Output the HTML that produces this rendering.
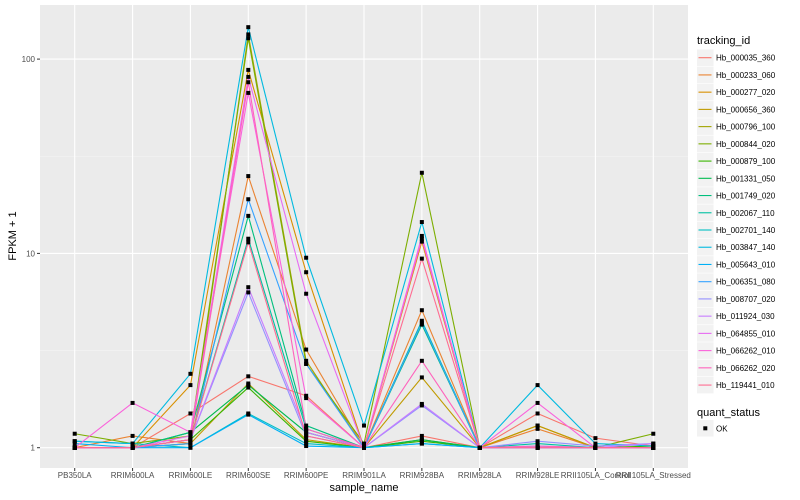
<!DOCTYPE html>
<html><head><meta charset="utf-8"><style>
body{margin:0;background:#fff;}
svg{display:block;font-family:"Liberation Sans",sans-serif;}
</style></head><body>
<svg id="chart" width="800" height="500" viewBox="0 0 800 500">
<rect x="40" y="5" width="648" height="463" fill="#EBEBEB"/>
<g id="grid"></g><g id="lines"></g><g id="points"></g><g id="axes"></g><g id="legend"></g>
<text x="364" y="491" font-size="11" text-anchor="middle" fill="#000">sample_name</text>
<text transform="translate(16,236) rotate(-90)" font-size="11" text-anchor="middle" fill="#000">FPKM + 1</text>
</svg>
<script>
const categories = ["PB350LA","RRIM600LA","RRIM600LE","RRIM600SE","RRIM600PE","RRIM901LA","RRIM928BA","RRIM928LA","RRIM928LE","RRII105LA_Control","RRII105LA_Stressed"];
const seriesNames = ["Hb_000035_360","Hb_000233_060","Hb_000277_020","Hb_000656_360","Hb_000796_100","Hb_000844_020","Hb_000879_100","Hb_001331_050","Hb_001749_020","Hb_002067_110","Hb_002701_140","Hb_003847_140","Hb_005643_010","Hb_006351_080","Hb_008707_020","Hb_011924_030","Hb_064855_010","Hb_066262_010","Hb_066262_020","Hb_119441_010"];
const s0=[1,1,1.5,2.33,1.85,1,1.15,1,1.5,1.12,1.02];
const s1=[1,1.15,1.05,25,3.2,1,5.1,1,1.25,1,1];
const s2=[1,1,2.1,88,8,1,11.5,1,1.3,1,1];
const s3=[1,1,1.05,2.14,1.1,1,2.3,1,1.3,1,1];
const s4=[1,1,1.05,134,2.8,1,1.1,1,1,1,1];
const s5=[1.18,1.05,1.15,128,2.7,1.05,26,1,1,1,1.18];
const s6=[1,1,1.1,2.04,1.08,1,1.08,1,1,1,1.02];
const s7=[1,1,1.2,2.1,1.2,1,1.1,1,1,1,1];
const s8=[1,1,1.2,15.6,1.3,1,4.3,1,1,1,1];
const s9=[1,1,1.1,11.9,1.25,1,4.5,1,1.05,1,1];
const s10=[1.08,1.05,1,1.5,1.05,1,1.05,1,1,1,1];
const s11=[1.08,1.05,2.4,146,9.5,1.3,14.5,1,2.1,1.05,1.02];
const s12=[1.05,1,1,1.48,1.02,1,1.05,1,1,1,1];
const s13=[1,1,1.05,19,2.7,1,4.4,1,1.02,1,1];
const s14=[1,1,1.1,6.3,1.15,1,1.65,1,1.08,1.02,1.05];
const s15=[1,1,1.1,6.7,1.2,1,1.68,1,1,1,1.05];
const s16=[1,1,1.15,81,6.2,1,12.3,1,1,1,1];
const s17=[1,1.7,1.2,67,1.8,1,11.9,1,1.7,1,1];
const s18=[1,1,1.1,76,1.25,1,2.8,1,1.02,1,1];
const s19=[1,1,1.1,11.4,1.15,1,9.4,1,1,1,1];
const seriesValues=[s0,s1,s2,s3,s4,s5,s6,s7,s8,s9,s10,s11,s12,s13,s14,s15,s16,s17,s18,s19];
const yTicks=[1,10,100];
const yTickLabels=["1","10","100"];
const colors=["#F8766D","#EA8331","#D89000","#C09B00","#A3A500","#7CAE00","#39B600","#00BB4E","#00BF7D","#00C1A3","#00BFC4","#00BAE0","#00B0F6","#35A2FF","#9590FF","#C77CFF","#E76BF3","#FA62DB","#FF62BC","#FF6C91"];

const NS="http://www.w3.org/2000/svg";
const PL=40,PR=688,PT=5,PB=468;
const step=(PR-PL)/(categories.length-1+1.2);
function xs(i){return PL+0.6*step+i*step;}
function ys(v){return 447.7-(Math.log10(v))*194.3;}
function mk(tag,attrs,parent){const e=document.createElementNS(NS,tag);for(const k in attrs)e.setAttribute(k,attrs[k]);parent.appendChild(e);return e;}
const grid=document.getElementById('grid'),lines=document.getElementById('lines'),pts=document.getElementById('points'),axes=document.getElementById('axes'),leg=document.getElementById('legend');
// minor grid
for(let d=-0.5;d<=2.5;d+=1){const y=ys(Math.pow(10,d));if(y>PT&&y<PB){const g=mk('line',{x1:PL,x2:PR,y1:y,y2:y,stroke:'#F5F5F5','stroke-width':0.6},grid);

}}
yTicks.forEach((t,i)=>{const y=ys(t);
const g=mk('line',{x1:PL,x2:PR,y1:y,y2:y,stroke:'#fff','stroke-width':1.1},grid);


const tk=mk('line',{x1:PL-3,x2:PL,y1:y,y2:y,stroke:'#333','stroke-width':1},axes);


const tx=mk('text',{x:PL-5,y:y+3,'font-size':8,'text-anchor':'end',fill:'#4D4D4D'},axes);tx.textContent=yTickLabels[i];

});
categories.forEach((c,i)=>{const x=xs(i);
const g=mk('line',{x1:x,x2:x,y1:PT,y2:PB,stroke:'#fff','stroke-width':1.1},grid);


const tk=mk('line',{x1:x,x2:x,y1:PB,y2:PB+3,stroke:'#333','stroke-width':1},axes);


const tx=mk('text',{x:x,y:PB+10,'font-size':8,'text-anchor':'middle',fill:'#4D4D4D'},axes);tx.textContent=c;

});
seriesValues.forEach((vals,si)=>{
const p=mk('polyline',{points:vals.map((v,i)=>xs(i)+','+ys(v)).join(' '),fill:'none',stroke:colors[si],'stroke-width':1.1},lines);


vals.forEach((v,i)=>{const c=mk('rect',{x:xs(i)-2,y:ys(v)-2,width:4,height:4,fill:'#000'},pts);

});});
// legend
const t1=mk('text',{x:697,y:44,'font-size':11,fill:'#000'},leg);t1.textContent='tracking_id';


seriesNames.forEach((n,i)=>{const cy=57.7+i*17.23;
const g=mk('g',{},leg);


mk('rect',{x:697,y:cy-8.3,width:16.6,height:16.6,fill:'#F2F2F2'},g);
mk('line',{x1:698.5,x2:711.5,y1:cy,y2:cy,stroke:colors[i],'stroke-width':1.1},g);
const t=mk('text',{x:716,y:cy+3,'font-size':8,fill:'#000'},g);t.textContent=n;});
const t2=mk('text',{x:697,y:416,'font-size':11,fill:'#000'},leg);t2.textContent='quant_status';


const g2=mk('g',{},leg);


mk('rect',{x:697,y:420,width:16.6,height:16.6,fill:'#F2F2F2'},g2);
mk('rect',{x:703.3,y:426.3,width:4,height:4,fill:'#000'},g2);
const tok=mk('text',{x:716,y:431.5,'font-size':8,fill:'#000'},g2);tok.textContent='OK';
</script>
</body></html>
